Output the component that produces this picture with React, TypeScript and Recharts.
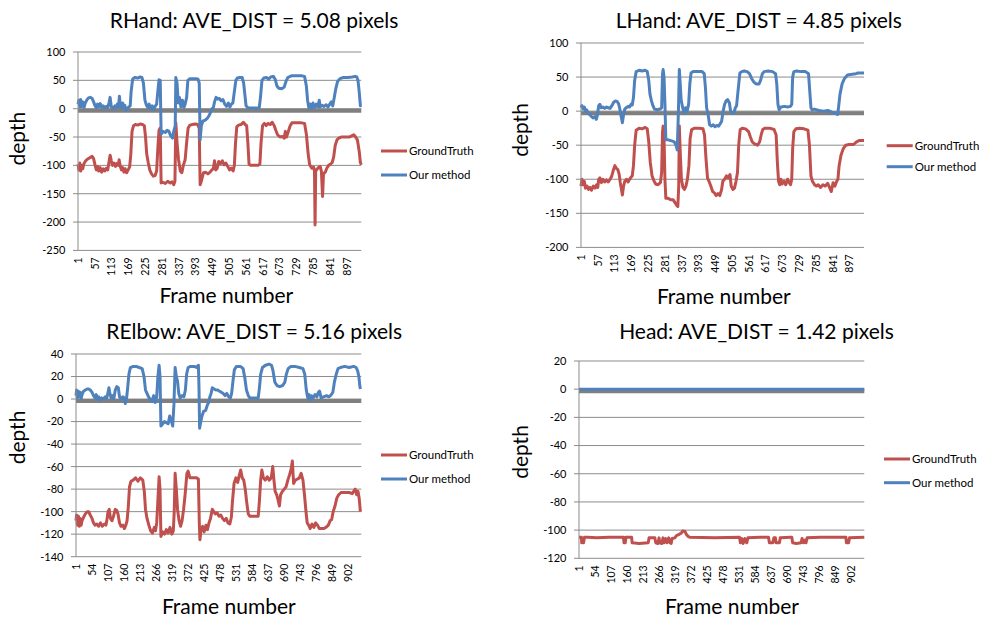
import { LineChart, Line, XAxis, YAxis, CartesianGrid, ReferenceLine } from 'recharts';

type Pt = [number, number];

const FRAMES = 945;
const FRAME_TICKS_A = [1, 57, 113, 169, 225, 281, 337, 393, 449, 505, 561, 617, 673, 729, 785, 841, 897];
const FRAME_TICKS_B = [1, 54, 107, 160, 213, 266, 319, 372, 425, 478, 531, 584, 637, 690, 743, 796, 849, 902];

const RHAND_TICKS = [-250, -200, -150, -100, -50, 0, 50, 100];
const LHAND_TICKS = [-200, -150, -100, -50, 0, 50, 100];
const RELBOW_TICKS = [-140, -120, -100, -80, -60, -40, -20, 0, 20, 40];
const HEAD_TICKS = [-120, -100, -80, -60, -40, -20, 0, 20];

// [frame, depth]
const RHAND_GT: Pt[] = [
  [1, -98], [4, -108], [7, -96], [10, -110], [13, -100], [17, -106], [20, -98], [25, -93], [30, -90], [36, -88],
  [42, -86], [48, -84], [53, -88], [58, -100], [62, -108], [66, -102], [70, -110], [75, -104], [80, -112], [85, -106],
  [90, -110], [95, -105], [100, -108], [104, -95], [108, -82], [112, -92], [116, -100], [121, -96], [126, -102], [130, -97],
  [135, -100], [138, -90], [142, -102], [146, -108], [150, -104], [154, -112], [158, -106], [163, -113], [168, -108], [173, -103],
  [177, -80], [181, -40], [186, -30], [192, -28], [200, -29], [208, -27], [216, -28], [222, -30], [226, -50], [230, -80],
  [235, -95], [240, -108], [246, -115], [252, -119], [258, -118], [263, -110], [267, -70], [271, -38], [275, -34], [278, -131],
  [284, -130], [292, -132], [300, -128], [308, -131], [314, -129], [320, -134], [324, -128], [327, -25], [331, -60], [336, -90],
  [342, -110], [347, -113], [352, -100], [358, -90], [363, -60], [368, -34], [374, -29], [382, -28], [392, -27], [400, -28],
  [405, -35], [408, -134], [412, -128], [419, -113], [426, -112], [434, -115], [441, -112], [447, -108], [452, -106], [456, -92],
  [460, -108], [465, -105], [470, -93], [476, -97], [482, -92], [488, -99], [494, -96], [500, -102], [506, -108], [512, -105],
  [518, -110], [522, -100], [526, -60], [530, -32], [536, -29], [544, -28], [552, -24], [558, -28], [563, -30], [567, -60],
  [571, -98], [577, -100], [590, -100], [600, -100], [607, -98], [611, -60], [616, -30], [622, -26], [628, -30], [634, -26],
  [642, -28], [648, -24], [655, -30], [660, -38], [666, -46], [674, -50], [682, -49], [688, -52], [692, -40], [696, -50],
  [702, -40], [708, -30], [714, -25], [730, -25], [745, -25], [756, -26], [762, -45], [768, -80], [773, -99], [780, -105],
  [786, -103], [789, -110], [791, -205], [793, -110], [797, -107], [802, -104], [808, -102], [812, -110], [816, -155], [819, -115],
  [825, -112], [830, -105], [836, -100], [842, -98], [848, -95], [853, -85], [858, -65], [864, -55], [870, -52], [878, -50],
  [890, -50], [905, -50], [913, -48], [920, -46], [926, -50], [932, -55], [938, -75], [942, -95], [945, -99],
];

const RHAND_OURS: Pt[] = [
  [1, 8], [4, 15], [7, 3], [10, 16], [13, 4], [17, 12], [21, 2], [25, 10], [30, 15], [36, 19],
  [42, 20], [48, 18], [53, 12], [58, 5], [62, 2], [66, 8], [70, 3], [75, 9], [80, 2], [85, 5],
  [90, 1], [95, 4], [100, 2], [104, 10], [108, 20], [112, 3], [118, 1], [124, 5], [128, 2], [132, 8],
  [136, 2], [139, 22], [142, 4], [146, 1], [150, 10], [153, 2], [157, 6], [161, -3], [165, 0], [170, 3],
  [175, 5], [178, 30], [183, 52], [190, 55], [200, 54], [208, 56], [214, 55], [219, 45], [224, 15], [229, 6],
  [234, 2], [238, 8], [243, 0], [248, 5], [253, -2], [258, 4], [263, 8], [267, 30], [271, 51], [275, 50],
  [278, -45], [284, -40], [292, -42], [298, -38], [304, -40], [310, -48], [316, -52], [320, -40], [325, -30], [327, 55],
  [331, 45], [335, 10], [339, 20], [344, 3], [349, 15], [354, 2], [358, 8], [363, 20], [367, 50], [374, 53],
  [384, 53], [394, 53], [401, 52], [405, 45], [408, -55], [412, -30], [417, -22], [425, -20], [432, -17], [438, -12],
  [443, -6], [448, 0], [452, 2], [456, 12], [461, 20], [466, 17], [472, 18], [478, 14], [484, 16], [490, 8],
  [496, 4], [502, 10], [507, 3], [512, 8], [517, 10], [522, 30], [527, 50], [532, 54], [540, 55], [548, 55],
  [553, 45], [557, 25], [561, 5], [568, 1], [580, 1], [595, 1], [605, 2], [609, 20], [614, 50], [620, 54],
  [630, 55], [636, 52], [643, 56], [652, 57], [658, 52], [664, 40], [670, 36], [680, 35], [688, 38], [694, 48],
  [700, 55], [712, 58], [730, 58], [745, 58], [756, 57], [762, 40], [766, 15], [770, 2], [775, 8], [779, 0],
  [784, 10], [789, 2], [795, 8], [800, 3], [805, 15], [808, 3], [814, 6], [820, 4], [828, 7], [834, 3],
  [840, 8], [845, 12], [850, 5], [855, 20], [860, 35], [866, 48], [874, 53], [885, 55], [900, 55], [915, 56],
  [925, 57], [930, 56], [934, 50], [938, 30], [942, 5], [945, 6],
];

const LHAND_GT: Pt[] = [
  [1, -110], [4, -100], [8, -108], [12, -103], [16, -113], [21, -110], [26, -115], [31, -112], [36, -116], [42, -110],
  [48, -113], [53, -108], [57, -112], [60, -100], [64, -98], [69, -105], [74, -100], [80, -104], [86, -101], [92, -104],
  [98, -100], [103, -96], [108, -88], [114, -80], [119, -84], [124, -86], [128, -92], [132, -105], [136, -115], [139, -123],
  [143, -110], [147, -103], [153, -100], [158, -104], [163, -100], [168, -97], [172, -95], [176, -80], [180, -50], [185, -28],
  [195, -25], [205, -26], [215, -24], [222, -26], [227, -45], [232, -75], [238, -95], [244, -102], [250, -107], [258, -108],
  [266, -105], [270, -90], [273, -30], [275, -22], [278, -40], [281, -100], [284, -128], [292, -128], [300, -130], [308, -130],
  [314, -134], [320, -138], [324, -140], [327, -110], [329, -22], [332, -60], [336, -100], [341, -112], [346, -115], [351, -110],
  [356, -100], [361, -80], [365, -40], [370, -27], [380, -25], [395, -25], [408, -26], [413, -35], [418, -70], [423, -98],
  [428, -103], [434, -110], [440, -118], [446, -120], [452, -124], [458, -121], [464, -124], [470, -115], [474, -103], [480, -100],
  [486, -95], [492, -98], [498, -93], [502, -110], [508, -115], [513, -113], [518, -103], [523, -90], [527, -50], [532, -27],
  [540, -25], [550, -26], [560, -30], [566, -38], [572, -45], [580, -48], [590, -50], [597, -45], [602, -35], [607, -27],
  [615, -25], [630, -25], [645, -27], [652, -35], [656, -75], [660, -103], [664, -108], [668, -100], [672, -107], [678, -103],
  [684, -108], [690, -100], [696, -105], [700, -108], [704, -100], [707, -55], [711, -30], [718, -26], [730, -25], [745, -26],
  [758, -28], [763, -50], [768, -95], [773, -103], [780, -108], [786, -110], [792, -108], [800, -112], [808, -108], [816, -110],
  [824, -106], [830, -112], [836, -118], [842, -105], [848, -110], [854, -103], [858, -100], [862, -80], [868, -65], [876, -55],
  [884, -50], [895, -49], [910, -49], [920, -45], [930, -43], [945, -43],
];

const LHAND_OURS: Pt[] = [
  [1, 5], [4, 8], [8, 3], [12, 6], [16, 0], [20, 2], [25, -3], [30, -5], [36, -8], [42, -10],
  [47, -8], [52, -12], [56, -5], [60, 8], [64, 10], [68, 5], [74, 6], [80, 4], [86, 6], [92, 5],
  [98, 4], [104, 8], [110, 13], [116, 15], [122, 14], [127, 10], [131, 2], [135, -8], [139, -17], [143, -5],
  [147, 3], [152, 5], [158, 7], [163, 6], [168, 10], [172, 9], [176, 20], [180, 45], [185, 58], [195, 60],
  [205, 59], [215, 60], [222, 58], [227, 45], [231, 25], [236, 15], [241, 8], [246, 3], [255, 2], [265, 3],
  [270, 5], [273, 55], [275, 61], [278, 50], [281, 10], [284, -42], [290, -42], [298, -43], [306, -44], [312, -45],
  [318, -50], [322, -57], [326, 0], [329, 61], [332, 40], [335, 17], [340, 5], [345, -3], [350, 5], [355, 0],
  [360, 10], [364, 40], [368, 56], [375, 58], [385, 58], [395, 58], [405, 58], [412, 55], [416, 35], [420, 5],
  [425, -5], [430, -20], [436, -22], [442, -20], [448, -23], [454, -21], [460, -22], [466, -18], [470, -15], [475, 0],
  [480, 10], [485, 15], [490, 17], [496, 12], [500, 0], [505, -3], [511, -2], [516, 5], [520, 8], [526, 35],
  [531, 56], [538, 58], [545, 59], [555, 58], [563, 55], [570, 48], [577, 43], [585, 40], [595, 40], [600, 45],
  [606, 55], [612, 58], [625, 59], [640, 58], [650, 55], [654, 40], [658, 10], [662, 2], [668, 6], [680, 7],
  [690, 6], [700, 7], [704, 10], [707, 50], [711, 58], [720, 59], [735, 58], [750, 58], [760, 55], [764, 30],
  [768, 5], [772, 2], [780, 3], [795, 1], [810, 0], [825, 1], [840, -2], [850, -3], [857, -5], [860, 5],
  [865, 25], [872, 40], [880, 48], [890, 53], [905, 54], [918, 55], [925, 56], [935, 56], [945, 56],
];

const RELBOW_GT: Pt[] = [
  [1, -108], [3, -103], [6, -112], [9, -104], [12, -113], [15, -106], [18, -112], [21, -108], [26, -105], [32, -102],
  [38, -100], [43, -100], [48, -103], [54, -106], [59, -110], [64, -112], [70, -111], [76, -113], [82, -110], [88, -113],
  [95, -111], [100, -112], [103, -108], [107, -100], [111, -98], [115, -106], [120, -108], [125, -104], [131, -98], [136, -99],
  [140, -102], [145, -110], [150, -113], [156, -112], [161, -115], [166, -112], [170, -108], [174, -96], [178, -78], [183, -73],
  [190, -72], [198, -70], [206, -73], [214, -70], [222, -72], [227, -82], [231, -98], [236, -106], [242, -112], [248, -117],
  [254, -119], [260, -114], [264, -117], [268, -110], [272, -90], [276, -69], [279, -80], [282, -122], [288, -118], [294, -120],
  [300, -116], [306, -119], [312, -114], [318, -120], [323, -117], [326, -100], [329, -66], [333, -80], [337, -98], [342, -108],
  [347, -113], [352, -108], [357, -98], [362, -85], [368, -66], [372, -64], [378, -70], [390, -70], [400, -70], [406, -71],
  [409, -110], [411, -125], [415, -116], [420, -113], [425, -118], [431, -112], [436, -116], [441, -110], [446, -106], [452, -98],
  [457, -100], [462, -102], [468, -101], [474, -104], [480, -103], [486, -106], [492, -108], [498, -106], [504, -110], [510, -111],
  [515, -105], [519, -90], [524, -75], [530, -70], [536, -74], [541, -68], [546, -63], [551, -70], [556, -72], [561, -80],
  [566, -92], [571, -102], [576, -104], [590, -104], [604, -104], [608, -90], [612, -72], [616, -63], [621, -70], [627, -72],
  [634, -69], [640, -72], [647, -70], [652, -60], [656, -72], [660, -82], [665, -85], [670, -90], [674, -95], [678, -85],
  [684, -82], [690, -80], [696, -78], [702, -72], [708, -67], [713, -62], [717, -55], [721, -75], [727, -72], [734, -71],
  [740, -70], [746, -66], [752, -72], [757, -85], [762, -100], [766, -110], [771, -112], [776, -115], [782, -111], [788, -114],
  [794, -110], [800, -112], [806, -115], [812, -115], [820, -115], [828, -114], [836, -112], [842, -108], [847, -107], [852, -100],
  [858, -95], [864, -88], [870, -85], [878, -83], [890, -83], [905, -83], [915, -84], [925, -80], [930, -85], [934, -82],
  [938, -88], [942, -100],
];

const RELBOW_OURS: Pt[] = [
  [1, 3], [3, 8], [6, 1], [9, 7], [12, 2], [15, 6], [18, 0], [21, 4], [26, 7], [32, 8],
  [38, 9], [43, 9], [48, 8], [54, 6], [59, 3], [64, 1], [68, 4], [72, 0], [76, 2], [81, -1],
  [86, 1], [92, 0], [98, 2], [103, 1], [107, 6], [110, 10], [113, 5], [117, 1], [122, 3], [126, 0],
  [131, 8], [136, 11], [141, 10], [145, 2], [150, 0], [156, 2], [161, 1], [164, -4], [168, 0], [172, 10],
  [176, 22], [181, 28], [190, 29], [200, 29], [210, 28], [220, 27], [226, 20], [231, 8], [236, 5], [241, 2],
  [246, 0], [252, -2], [258, 3], [263, -3], [268, 2], [272, 20], [276, 30], [279, 20], [282, -24], [288, -22],
  [294, -20], [300, -21], [306, -22], [311, -15], [316, -19], [321, -24], [325, -5], [329, 28], [333, 20], [337, 16],
  [341, 5], [346, 1], [352, 3], [358, 2], [363, 8], [367, 22], [372, 28], [380, 29], [392, 29], [400, 28],
  [406, 30], [408, 10], [410, -26], [414, -20], [418, -15], [423, -11], [430, -10], [436, -5], [440, -3], [444, 2],
  [448, 5], [452, 10], [458, 9], [464, 8], [470, 8], [476, 7], [482, 6], [488, 5], [494, 3], [500, 5],
  [506, 2], [512, 1], [516, 5], [520, 15], [525, 26], [532, 29], [545, 29], [554, 27], [560, 18], [565, 8],
  [571, 3], [576, 1], [590, 1], [604, 1], [608, 10], [612, 22], [618, 28], [628, 30], [640, 31], [648, 30],
  [653, 25], [659, 15], [666, 12], [675, 11], [685, 12], [692, 15], [697, 22], [703, 27], [712, 29], [725, 29],
  [740, 28], [752, 27], [758, 22], [763, 8], [768, 1], [772, 4], [776, -1], [780, 3], [786, 1], [792, 4],
  [798, 2], [803, 6], [807, 7], [812, 1], [820, 2], [830, 3], [838, 2], [846, 4], [851, 6], [856, 15],
  [862, 22], [868, 27], [876, 28], [890, 29], [905, 28], [920, 29], [928, 28], [933, 25], [937, 20], [940, 12],
  [942, 9],
];

const HEAD_GT: Pt[] = [
  [1, -105], [9, -105], [10, -109], [12, -107], [16, -109], [19, -105], [30, -105], [60, -105.5], [100, -105], [148, -105],
  [150, -109], [154, -109], [156, -105], [175, -105], [177, -109], [200, -109.5], [230, -109], [233, -105.5], [252, -105.5], [255, -109],
  [262, -109.5], [266, -105.5], [268, -109], [275, -109.5], [279, -105.5], [282, -109], [288, -106], [292, -109], [298, -105.5], [302, -109],
  [306, -109.5], [309, -106], [318, -105.5], [323, -104], [332, -103], [340, -102], [344, -100.7], [352, -101], [356, -103], [362, -104.5],
  [367, -105], [450, -105.5], [532, -105], [535, -109], [540, -106], [544, -109.5], [550, -106], [556, -109], [560, -105.5], [600, -105],
  [628, -105], [631, -109], [642, -109], [646, -105.5], [651, -105.5], [653, -109], [664, -109], [667, -105.5], [700, -105], [705, -105],
  [708, -109], [720, -109.5], [736, -109], [739, -106], [744, -109], [749, -107], [752, -109], [756, -105.5], [800, -105], [884, -105],
  [886, -109], [893, -109], [896, -105.5], [945, -105],
];

const HEAD_OURS: Pt[] = [
  [1, 0], [100, 0], [200, 0], [300, 0], [400, 0], [500, 0], [600, 0], [700, 0], [800, 0], [945, 0],
];

const FONT = 'Lato, "Open Sans", "DejaVu Sans", sans-serif';
const RED = '#C0504D';
const BLUE = '#4F81BD';
const GRID = '#8c8c8c';

const toRows = (pts: Pt[]) => pts.map(([f, v]) => ({ f, v }));

function FrameTick(props: any) {
  const { x, y, payload } = props;
  return (
    <text
      transform={`translate(${x},${y + 7}) rotate(-90)`}
      textAnchor="end"
      dy="0.36em"
      fontSize={10.5}
      fill="#000"
      fontFamily={FONT}
    >
      {payload.value}
    </text>
  );
}

interface PanelProps {
  plot: { left: number; top: number; right: number; bottom: number };
  yTicks: number[];
  xTicks: number[];
  gt: Pt[];
  ours: Pt[];
}

function Panel({ plot, yTicks, xTicks, gt, ours }: PanelProps) {
  const yw = 60;
  const mt = 8;
  const xh = 34;
  const width = plot.right - plot.left + yw + 4;
  const height = plot.bottom - plot.top + mt + xh;
  return (
    <div style={{ position: 'absolute', left: plot.left - yw, top: plot.top - mt }}>
      <LineChart
        width={width}
        height={height}
        margin={{ top: mt, right: 4, bottom: 0, left: 0 }}
        style={{ fontFamily: FONT }}
      >
        <CartesianGrid vertical={false} stroke={GRID} strokeWidth={1} />
        <XAxis
          type="number"
          dataKey="f"
          domain={[1, FRAMES]}
          ticks={xTicks}
          interval={0}
          axisLine={false}
          tickLine={false}
          tickSize={0}
          tickMargin={0}
          height={xh}
          tick={(p: any) => <FrameTick {...p} />}
        />
        <YAxis
          type="number"
          domain={[yTicks[0], yTicks[yTicks.length - 1]]}
          ticks={yTicks}
          interval={0}
          width={yw}
          tickSize={5}
          tickMargin={7.5}
          axisLine={{ stroke: GRID }}
          tickLine={{ stroke: GRID }}
          tick={{ fontSize: 11, fill: '#000' }}
        />
        <ReferenceLine
          y={0}
          shape={(p: any) => (
            <line x1={p.x1} y1={p.y1 + 2} x2={p.x2} y2={p.y2 + 2} stroke="#7f7f7f" strokeWidth={4} />
          )}
        />
        <Line
          data={toRows(gt)}
          dataKey="v"
          type="linear"
          stroke={RED}
          strokeWidth={3}
          strokeLinejoin="round"
          dot={false}
          activeDot={false}
          isAnimationActive={false}
        />
        <Line
          data={toRows(ours)}
          dataKey="v"
          type="linear"
          stroke={BLUE}
          strokeWidth={3}
          strokeLinejoin="round"
          dot={false}
          activeDot={false}
          isAnimationActive={false}
        />
      </LineChart>
    </div>
  );
}

function Legend2({ x, y, gap }: { x: number; y: number; gap: number }) {
  return (
    <g fontSize={11.5} fill="#000">
      <line x1={x} y1={y} x2={x + 26} y2={y} stroke={RED} strokeWidth={3} />
      <text x={x + 28} y={y + 4}>GroundTruth</text>
      <line x1={x} y1={y + gap} x2={x + 26} y2={y + gap} stroke={BLUE} strokeWidth={3} />
      <text x={x + 28} y={y + gap + 4}>Our method</text>
    </g>
  );
}

function Texts() {
  const big = { fontSize: 21, fill: '#000', textAnchor: 'middle' as const };
  return (
    <svg
      width={984}
      height={619}
      style={{ position: 'absolute', left: 0, top: 0, pointerEvents: 'none', fontFamily: FONT }}
    >
      <text x={254} y={28.3} {...big}>RHand: AVE_DIST = 5.08 pixels</text>
      <text x={758.8} y={28.3} {...big}>LHand: AVE_DIST = 4.85 pixels</text>
      <text x={254.2} y={339.3} {...big}>RElbow: AVE_DIST = 5.16 pixels</text>
      <text x={756.5} y={339.3} {...big}>Head: AVE_DIST = 1.42 pixels</text>

      <text x={226.3} y={302.7} {...big}>Frame number</text>
      <text x={723.8} y={303.5} {...big}>Frame number</text>
      <text x={228.8} y={613.5} {...big}>Frame number</text>
      <text x={732} y={614} {...big}>Frame number</text>

      <text transform="translate(24.5,138.7) rotate(-90)" {...big}>depth</text>
      <text transform="translate(527.7,130) rotate(-90)" {...big}>depth</text>
      <text transform="translate(24.5,437.5) rotate(-90)" {...big}>depth</text>
      <text transform="translate(527.7,452) rotate(-90)" {...big}>depth</text>

      <Legend2 x={381} y={151} gap={24} />
      <Legend2 x={886.7} y={145.7} gap={21} />
      <Legend2 x={381} y={455} gap={24} />
      <Legend2 x={884} y={459} gap={23.7} />
    </svg>
  );
}

export default function App() {
  return (
    <div
      style={{
        position: 'absolute',
        left: 0,
        top: 0,
        width: 984,
        height: 619,
        background: '#fff',
        overflow: 'hidden',
        fontFamily: FONT,
      }}
    >
      <Panel
        plot={{ left: 77.7, top: 52.3, right: 361, bottom: 250.7 }}
        yTicks={RHAND_TICKS}
        xTicks={FRAME_TICKS_A}
        gt={RHAND_GT}
        ours={RHAND_OURS}
      />
      <Panel
        plot={{ left: 581.3, top: 43.3, right: 864.3, bottom: 247.7 }}
        yTicks={LHAND_TICKS}
        xTicks={FRAME_TICKS_A}
        gt={LHAND_GT}
        ours={LHAND_OURS}
      />
      <Panel
        plot={{ left: 75.7, top: 354.3, right: 361, bottom: 557 }}
        yTicks={RELBOW_TICKS}
        xTicks={FRAME_TICKS_B}
        gt={RELBOW_GT}
        ours={RELBOW_OURS}
      />
      <Panel
        plot={{ left: 579, top: 361, right: 864.3, bottom: 558.3 }}
        yTicks={HEAD_TICKS}
        xTicks={FRAME_TICKS_B}
        gt={HEAD_GT}
        ours={HEAD_OURS}
      />
      <Texts />
    </div>
  );
}
